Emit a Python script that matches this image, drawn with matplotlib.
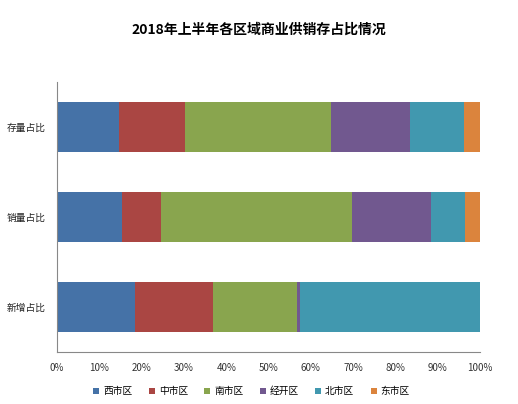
import numpy as np
import matplotlib
matplotlib.use("Agg")
import matplotlib.pyplot as plt

plt.rcParams['font.family'] = ['Noto Sans CJK SC', 'DejaVu Sans']

# categories (bottom to top)
categories = ['新增占比', '销量占比', '存量占比']
regions = ['西市区', '中市区', '南市区', '经开区', '北市区', '东市区']
# percent share per region, rows follow categories
west = [18.4, 15.3, 14.6]
central = [18.4, 9.2, 15.6]
south = [19.9, 45.2, 34.5]
econ = [0.7, 18.7, 18.7]
north = [42.6, 8.0, 12.8]
east = [0.0, 3.6, 3.7]
colors = ['#4572A7', '#AA4643', '#89A54E', '#71588F', '#4198AF', '#DB843D']

series = [west, central, south, econ, north, east]

fig = plt.figure(figsize=(5.18, 4.04), dpi=100)
ax = fig.add_axes([0.110, 0.129, 0.817, 0.668])

y = np.arange(len(categories))
left = np.zeros(len(categories))
for name, vals, c in zip(regions, series, colors):
    vals = np.array(vals)
    ax.barh(y, vals, left=left, height=0.56, color=c, label=name)
    left += vals

ax.set_xlim(0, 100)
ax.set_ylim(-0.5, 2.5)
ax.set_yticks(y)
ax.set_yticklabels(categories, fontsize=7, color='#222222')
ax.set_xticks(np.arange(0, 101, 10))
ax.set_xticklabels([f'{v}%' for v in range(0, 101, 10)], fontsize=7, color='#333333')
ax.tick_params(axis='x', length=0, pad=8)
ax.tick_params(axis='y', length=0, pad=8)
for s in ['top', 'right']:
    ax.spines[s].set_visible(False)
for s in ['left', 'bottom']:
    ax.spines[s].set_color('#888888')
    ax.spines[s].set_linewidth(0.8)

fig.suptitle('2018年上半年各区域商业供销存占比情况', fontsize=10, fontweight='bold', y=0.945)
ax.legend(loc='upper center', bbox_to_anchor=(0.46, -0.095), ncol=6, frameon=False,
          fontsize=7, handlelength=0.6, handleheight=0.6, handletextpad=0.4, columnspacing=1.7)

fig.savefig('out.png', dpi=100)
